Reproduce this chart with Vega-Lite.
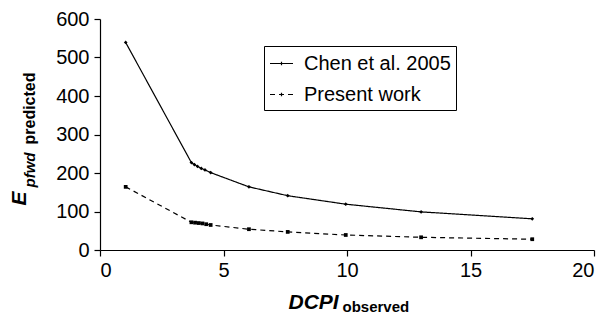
{
  "$schema": "https://vega.github.io/schema/vega-lite/v6.json",
  "width": 494,
  "height": 231,
  "autosize": {"type": "none"},
  "padding": {"left": 100, "top": 19, "right": 21, "bottom": 68},
  "background": "white",
  "config": {
    "view": {"stroke": null},
    "font": "Liberation Sans",
    "axis": {
      "domainColor": "black",
      "domainWidth": 1.2,
      "tickColor": "black",
      "tickWidth": 1.2,
      "tickSize": 6,
      "grid": false,
      "labelColor": "black",
      "labelFontSize": 20,
      "labelFont": "Liberation Sans",
      "titleColor": "black",
      "titleFont": "Liberation Sans",
      "titleFontWeight": "bold",
      "titleBaseline": "alphabetic"
    },
    "legend": {
      "orient": "none",
      "legendX": 164,
      "legendY": 27,
      "strokeColor": "black",
      "strokeWidth": 1,
      "padding": 5,
      "labelFontSize": 20,
      "labelFont": "Liberation Sans",
      "labelColor": "black",
      "symbolType": "M-1,0H1M0,-0.15V0.15",
      "symbolSize": 529,
      "symbolStrokeColor": "black",
      "symbolStrokeWidth": 1.2,
      "rowPadding": 8,
      "labelOffset": 10,
      "fillColor": "white"
    }
  },
  "data": {
    "values": [
      {"x": 1.04, "y": 539, "series": "Chen et al. 2005"},
      {"x": 3.7, "y": 227, "series": "Chen et al. 2005"},
      {"x": 3.82, "y": 222, "series": "Chen et al. 2005"},
      {"x": 3.95, "y": 217, "series": "Chen et al. 2005"},
      {"x": 4.1, "y": 212, "series": "Chen et al. 2005"},
      {"x": 4.25, "y": 208, "series": "Chen et al. 2005"},
      {"x": 4.48, "y": 201, "series": "Chen et al. 2005"},
      {"x": 6.03, "y": 164, "series": "Chen et al. 2005"},
      {"x": 7.6, "y": 141, "series": "Chen et al. 2005"},
      {"x": 9.95, "y": 119, "series": "Chen et al. 2005"},
      {"x": 13.0, "y": 99, "series": "Chen et al. 2005"},
      {"x": 17.5, "y": 81, "series": "Chen et al. 2005"},
      {"x": 1.04, "y": 164, "series": "Present work"},
      {"x": 3.7, "y": 72, "series": "Present work"},
      {"x": 3.85, "y": 71, "series": "Present work"},
      {"x": 4.0, "y": 70, "series": "Present work"},
      {"x": 4.15, "y": 69, "series": "Present work"},
      {"x": 4.3, "y": 67, "series": "Present work"},
      {"x": 4.48, "y": 65, "series": "Present work"},
      {"x": 6.03, "y": 54, "series": "Present work"},
      {"x": 7.6, "y": 47, "series": "Present work"},
      {"x": 9.95, "y": 39, "series": "Present work"},
      {"x": 13.0, "y": 33, "series": "Present work"},
      {"x": 17.5, "y": 28, "series": "Present work"}
    ]
  },
  "resolve": {"axis": {"x": "independent", "y": "independent"}},
  "layer": [
    {
      "mark": {"type": "line", "color": "black", "strokeWidth": 1.2},
      "encoding": {
        "x": {
          "field": "x",
          "type": "quantitative",
          "scale": {"domain": [0, 20], "nice": false},
          "axis": {"orient": "bottom", "values": [0, 5, 10, 15, 20], "labelPadding": 4, "title": "DCPI", "titleFontStyle": "italic", "titleFontSize": 21, "titleAlign": "left", "titleAnchor": null, "titleX": 188, "titleY": 58, "titleAngle": 0}
        },
        "y": {
          "field": "y",
          "type": "quantitative",
          "scale": {"domain": [0, 600], "nice": false},
          "axis": {"orient": "left", "values": [0, 100, 200, 300, 400, 500, 600], "labelPadding": 5, "title": "E", "titleFontStyle": "italic", "titleFontSize": 21, "titleAlign": "left", "titleAnchor": null, "titleAngle": -90, "titleX": -75, "titleY": 186}
        },
        "strokeDash": {
          "field": "series",
          "type": "nominal",
          "scale": {"domain": ["Chen et al. 2005", "Present work"], "range": [[1, 0], [5, 4]]},
          "legend": {"title": null}
        }
      }
    },
    {
      "transform": [{"filter": "datum.series === 'Chen et al. 2005'"}],
      "mark": {"type": "point", "shape": "diamond", "filled": true, "color": "black", "opacity": 1, "size": 14},
      "encoding": {
        "x": {"field": "x", "type": "quantitative", "axis": null},
        "y": {"field": "y", "type": "quantitative", "axis": null}
      }
    },
    {
      "transform": [{"filter": "datum.series === 'Present work'"}],
      "mark": {"type": "point", "shape": "square", "filled": true, "color": "black", "opacity": 1, "size": 14},
      "encoding": {
        "x": {"field": "x", "type": "quantitative", "axis": null},
        "y": {"field": "y", "type": "quantitative", "axis": null}
      }
    },
    {
      "mark": {"type": "point", "opacity": 0},
      "encoding": {
        "x": {
          "field": "x",
          "type": "quantitative",
          "axis": {"orient": "bottom", "domain": false, "ticks": false, "labels": false, "title": "observed", "titleFontSize": 15, "titleAlign": "left", "titleAnchor": null, "titleX": 242, "titleY": 61, "titleAngle": 0}
        },
        "y": {
          "field": "y",
          "type": "quantitative",
          "axis": {"orient": "left", "domain": false, "ticks": false, "labels": false, "title": "pfwd", "titleFontStyle": "italic", "titleFontSize": 15, "titleAlign": "left", "titleAnchor": null, "titleAngle": -90, "titleX": -66, "titleY": 168}
        }
      }
    },
    {
      "mark": {"type": "point", "opacity": 0},
      "encoding": {
        "x": {"field": "x", "type": "quantitative", "axis": null},
        "y": {
          "field": "y",
          "type": "quantitative",
          "axis": {"orient": "left", "domain": false, "ticks": false, "labels": false, "title": "predicted", "titleFontSize": 16, "titleAlign": "left", "titleAnchor": null, "titleAngle": -90, "titleX": -66, "titleY": 125}
        }
      }
    }
  ]
}
